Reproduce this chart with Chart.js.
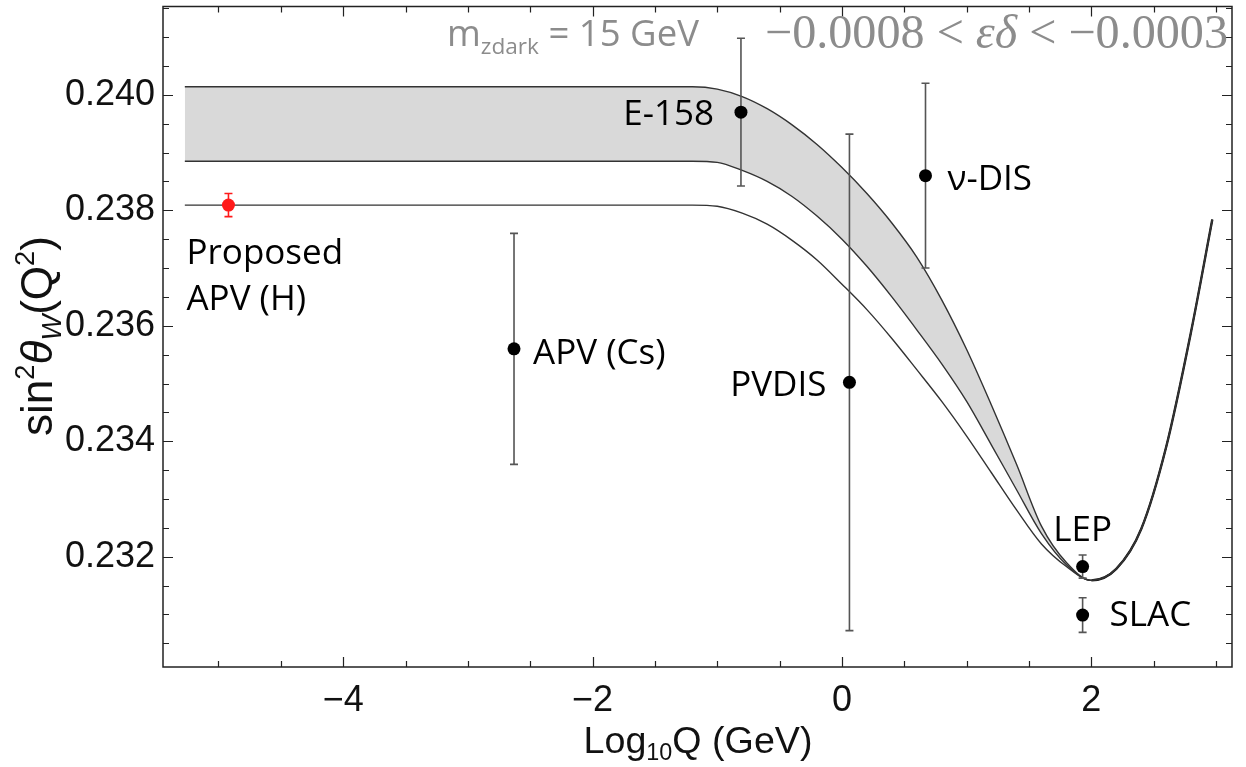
<!DOCTYPE html>
<html>
<head>
<meta charset="utf-8">
<script src="https://cdn.jsdelivr.net/npm/chart.js@4.4.1/dist/chart.umd.min.js"></script>
<style>
  html, body { margin: 0; padding: 0; background: #fff; }
</style>
</head>
<body>
<canvas id="chart" width="1246" height="767"></canvas>
<script>
// measured points (log10 Q in GeV, sin^2 theta_W, one-sigma error)
const pointNames = ['Proposed APV (H)', 'APV (Cs)', 'E-158', 'PVDIS', 'ν-DIS', 'LEP', 'SLAC'];
const pointLogQ = [-4.92, -2.63, -0.81, 0.06, 0.67, 1.93, 1.93];
const pointSin2 = [0.23809, 0.23560, 0.23970, 0.23502, 0.23860, 0.23183, 0.23099];
const pointErr  = [0.0002, 0.0020, 0.00128, 0.0043, 0.0016, 0.0002, 0.0003];

// running curves
const curveLogQ = [-5.27, -1.4, -1.2, -1.0, -0.8, -0.6, -0.4, -0.2, 0, 0.2, 0.4, 0.6, 0.8, 1.0, 1.2, 1.4, 1.6, 1.8, 2.0, 2.2, 2.4, 2.6, 2.8, 2.97];
const bandUpper = [0.24014, 0.24014, 0.24014, 0.24010, 0.23997, 0.23976, 0.23948, 0.23914, 0.23874, 0.23829, 0.23778, 0.23719, 0.23645, 0.23559, 0.23462, 0.23360, 0.23253, 0.23190, 0.23159, 0.23179, 0.23248, 0.23390, 0.23590, 0.23784];
const bandLower = [0.23885, 0.23885, 0.23885, 0.23883, 0.23869, 0.23850, 0.23824, 0.23790, 0.23750, 0.23703, 0.23650, 0.23593, 0.23534, 0.23469, 0.23393, 0.23316, 0.23240, 0.23186, 0.23159, 0.23179, 0.23248, 0.23390, 0.23590, 0.23784];
const smCurve   = [0.23809, 0.23809, 0.23809, 0.23807, 0.23795, 0.23776, 0.23748, 0.23714, 0.23672, 0.23628, 0.23578, 0.23524, 0.23469, 0.23409, 0.23345, 0.23281, 0.23222, 0.23183, 0.23159, 0.23179, 0.23248, 0.23390, 0.23590, 0.23784];

// axis ticks
const xTickValues = [-4, -2, 0, 2];
const yTickValues = [0.232, 0.234, 0.236, 0.238, 0.240];

const toXY = (xs, ys) => xs.map((q, i) => ({ x: q, y: ys[i] }));

// draws text pieces (sub/superscripts) along one baseline, fitted to a width
function drawRuns(ctx, runs, x, y, targetWidth, family, align) {
  const fontFor = (r, size) => (r.italic ? 'italic ' : '') + (size * (r.scale || 1)).toFixed(2) + 'px ' + (r.family || family);
  let w = 0;
  runs.forEach(r => { ctx.font = fontFor(r, 100); w += ctx.measureText(r.t).width; });
  const size = 100 * targetWidth / w;
  let cx = align === 'center' ? x - targetWidth / 2 : x;
  ctx.textAlign = 'left';
  ctx.textBaseline = 'alphabetic';
  runs.forEach(r => {
    ctx.font = fontFor(r, size);
    ctx.fillText(r.t, cx, y + (r.dy || 0) * size);
    cx += ctx.measureText(r.t).width;
  });
}

const errorBars = {
  id: 'errorBars',
  beforeDatasetDraw(chart, args) {
    if (args.index !== 0) return;
    const { ctx, scales: { x, y } } = chart;
    ctx.save();
    ctx.lineWidth = 1.6;
    pointLogQ.forEach((q, i) => {
      const px = x.getPixelForValue(q);
      const top = y.getPixelForValue(pointSin2[i] + pointErr[i]);
      const bot = y.getPixelForValue(pointSin2[i] - pointErr[i]);
      ctx.strokeStyle = i === 0 ? '#ff1a1a' : '#555';
      ctx.beginPath();
      ctx.moveTo(px, top); ctx.lineTo(px, bot);
      ctx.moveTo(px - 4, top); ctx.lineTo(px + 4, top);
      ctx.moveTo(px - 4, bot); ctx.lineTo(px + 4, bot);
      ctx.stroke();
    });
    ctx.restore();
  }
};

// label offsets from each point, in pixels
const labelLayout = [
  { lines: ['Proposed', 'APV (H)'], dx: -42, dy: 59, gap: 46, align: 'left' },
  { lines: ['APV (Cs)'], dx: 19, dy: 15, align: 'left' },
  { lines: ['E-158'], dx: -27, dy: 13, align: 'right' },
  { lines: ['PVDIS'], dx: -23, dy: 14, align: 'right' },
  { lines: ['ν-DIS'], dx: 22, dy: 14, align: 'left' },
  { lines: ['LEP'], dx: 0, dy: -26, align: 'center' },
  { lines: ['SLAC'], dx: 27, dy: 11, align: 'left' }
];

const decorations = {
  id: 'decorations',
  afterDraw(chart) {
    const { ctx, chartArea: a, scales: { x, y } } = chart;
    ctx.save();

    // frame with inward ticks on all four sides
    ctx.strokeStyle = '#222';
    ctx.lineWidth = 1.5;
    ctx.strokeRect(a.left, a.top, a.right - a.left, a.bottom - a.top);
    ctx.lineWidth = 1.2;
    ctx.beginPath();
    for (let k = -10; k <= 6; k++) {
      const v = k * 0.5;
      const px = Math.round(x.getPixelForValue(v)) + 0.5;
      const len = xTickValues.includes(v) ? 10 : 6;
      ctx.moveTo(px, a.bottom); ctx.lineTo(px, a.bottom - len);
      ctx.moveTo(px, a.top); ctx.lineTo(px, a.top + len);
    }
    for (let k = 461; k <= 483; k++) {
      const v = k * 0.0005;
      const py = Math.round(y.getPixelForValue(v)) + 0.5;
      const len = k % 4 === 0 ? 10 : 6;
      ctx.moveTo(a.left, py); ctx.lineTo(a.left + len, py);
      ctx.moveTo(a.right, py); ctx.lineTo(a.right - len, py);
    }
    ctx.stroke();

    // point labels
    const meta = chart.getDatasetMeta(0);
    ctx.fillStyle = '#000';
    ctx.font = '35px "Open Sans"';
    ctx.textBaseline = 'alphabetic';
    labelLayout.forEach((lab, i) => {
      const p = meta.data[i];
      ctx.textAlign = lab.align;
      lab.lines.forEach((t, j) => ctx.fillText(t, p.x + lab.dx, p.y + lab.dy + j * (lab.gap || 0)));
    });

    // annotation at the top
    ctx.fillStyle = '#8c8c8c';
    drawRuns(ctx, [
      { t: 'm' },
      { t: 'zdark', scale: 0.62, dy: 0.22 },
      { t: ' = 15 GeV' }
    ], 447, 46, 252, '"Open Sans"', 'left');
    drawRuns(ctx, [
      { t: '\u22120.0008 < ' },
      { t: '\u03b5\u03b4', italic: true },
      { t: ' < \u22120.0003' }
    ], 765, 48, 463, '"Liberation Serif"', 'left');

    // axis titles
    ctx.fillStyle = '#111';
    drawRuns(ctx, [
      { t: 'Log' },
      { t: '10', scale: 0.62, dy: 0.18 },
      { t: 'Q (GeV)' }
    ], 698, 753, 229, '"Liberation Sans"', 'center');

    ctx.translate(52, 336);
    ctx.rotate(-Math.PI / 2);
    drawRuns(ctx, [
      { t: 'sin' },
      { t: '2', scale: 0.62, dy: -0.4 },
      { t: '\u03b8', italic: true },
      { t: 'W', italic: true, scale: 0.62, dy: 0.2 },
      { t: '(Q' },
      { t: '2', scale: 0.62, dy: -0.4 },
      { t: ')' }
    ], 0, 0, 200, '"Liberation Sans"', 'center');

    ctx.restore();
  }
};

const curveStyle = {
  borderColor: '#333',
  borderWidth: 1.4,
  pointRadius: 0,
  cubicInterpolationMode: 'monotone'
};

new Chart(document.getElementById('chart'), {
  type: 'line',
  data: {
    datasets: [
      {
        type: 'scatter',
        label: 'data',
        data: toXY(pointLogQ, pointSin2),
        pointRadius: 6.5,
        pointBorderWidth: 0,
        pointBackgroundColor: pointNames.map((n, i) => i === 0 ? '#ff1a1a' : '#000'),
        showLine: false
      },
      Object.assign({ label: 'upper', data: toXY(curveLogQ, bandUpper), fill: '+1', backgroundColor: '#d9d9d9' }, curveStyle),
      Object.assign({ label: 'lower', data: toXY(curveLogQ, bandLower), fill: false }, curveStyle),
      Object.assign({
        label: 'SM', data: toXY(curveLogQ, smCurve), fill: false,
        segment: { borderWidth: c => c.p0.parsed.x >= 1.99 ? 2.4 : 1.4, borderColor: c => c.p0.parsed.x >= 1.99 ? '#111' : '#333' }
      }, curveStyle)
    ]
  },
  options: {
    responsive: false,
    animation: false,
    layout: { padding: { top: 3, right: 14, left: 0, bottom: 0 } },
    plugins: {
      legend: { display: false },
      tooltip: { enabled: false },
      filler: { drawTime: 'beforeDatasetsDraw' }
    },
    scales: {
      x: {
        type: 'linear',
        min: -5.445,
        max: 3.128,
        grid: { display: false, drawTicks: false },
        border: { display: false },
        afterBuildTicks: s => { s.ticks = xTickValues.map(v => ({ value: v })); },
        afterFit: s => { s.height = 100; s.paddingLeft = 0; s.paddingRight = 0; },
        ticks: {
          padding: 12,
          maxRotation: 0,
          color: '#111',
          font: { family: 'Liberation Sans', size: 36 },
          callback: v => v < 0 ? '\u2212' + Math.abs(v) : String(v)
        }
      },
      y: {
        type: 'linear',
        min: 0.23009,
        max: 0.24153,
        grid: { display: false, drawTicks: false },
        border: { display: false },
        afterBuildTicks: s => { s.ticks = yTickValues.map(v => ({ value: v })); },
        afterFit: s => { s.width = 163; s.paddingTop = 0; s.paddingBottom = 0; },
        ticks: {
          padding: 8,
          color: '#111',
          font: { family: 'Liberation Sans', size: 36 },
          callback: v => v.toFixed(3)
        }
      }
    }
  },
  plugins: [errorBars, decorations]
});
</script>
</body>
</html>
